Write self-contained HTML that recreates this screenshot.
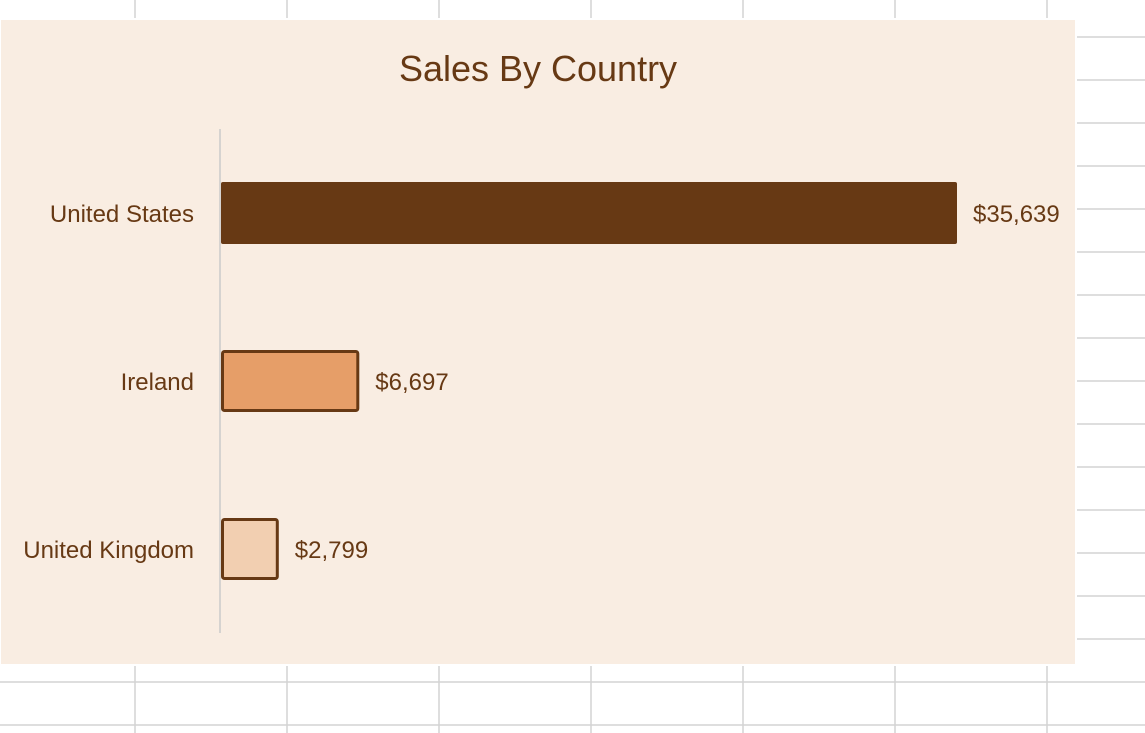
<!DOCTYPE html>
<html><head><meta charset="utf-8"><style>
html,body{margin:0;padding:0;background:#fff;}
svg{display:block;font-family:"Liberation Sans","DejaVu Sans",sans-serif;}
</style></head><body>
<svg id="c" width="1145" height="733" viewBox="0 0 1145 733">
<g id="grid"></g>
<rect x="0" y="19" width="1076" height="646" fill="#f9ede2" stroke="#fff" stroke-width="2"/>
<text x="538" y="81" text-anchor="middle" font-size="36" fill="#673914">Sales By Country</text>
<line x1="220" y1="129" x2="220" y2="633" stroke="#d6d3d0" stroke-width="2"/>
<g id="bars"></g>
</svg>
<script>
const categories = ["United States", "Ireland", "United Kingdom"];
const salesValues = [35639, 6697, 2799];
const valueLabels = ["$35,639", "$6,697", "$2,799"];
const NS = "http://www.w3.org/2000/svg";
const fills = ["#673914", "#e69e68", "#f2cfb1"];
const strokes = ["none", "#673914", "#673914"];

const g = document.getElementById("grid");
for (let x = 135; x < 1145; x += 152) {
  const l = document.createElementNS(NS, "line");
  l.setAttribute("x1", x); l.setAttribute("x2", x); l.setAttribute("y1", 0); l.setAttribute("y2", 733);
  l.setAttribute("stroke", "#d4d4d4"); l.setAttribute("stroke-width", "1.5");
  
  
  g.appendChild(l);
}
for (let y = 37; y < 733; y += 43) {
  const l = document.createElementNS(NS, "line");
  l.setAttribute("x1", 0); l.setAttribute("x2", 1145); l.setAttribute("y1", y); l.setAttribute("y2", y);
  l.setAttribute("stroke", "#d4d4d4"); l.setAttribute("stroke-width", "1.5");
  
  
  g.appendChild(l);
}

const x0 = 221, pxPerUnit = 736 / 35639;
const xScale = v => x0 + v * pxPerUnit;
const plotTop = 129, band = 168;
const yCenter = i => plotTop + band * i + band / 2;

const bars = document.getElementById("bars");
categories.forEach((cat, i) => {
  const cy = yCenter(i);
  const w = xScale(salesValues[i]) - x0;
  const r = document.createElementNS(NS, "rect");
  const sw = strokes[i] === "none" ? 0 : 3;
  r.setAttribute("x", x0 + sw / 2); r.setAttribute("y", cy - 31 + sw / 2);
  r.setAttribute("width", Math.max(0, w - sw)); r.setAttribute("height", 62 - sw);
  r.setAttribute("rx", 2);
  r.setAttribute("fill", fills[i]);
  if (sw) { r.setAttribute("stroke", strokes[i]); r.setAttribute("stroke-width", sw); }
  
  
  bars.appendChild(r);

  const t = document.createElementNS(NS, "text");
  t.setAttribute("x", 194); t.setAttribute("y", cy + 9);
  t.setAttribute("text-anchor", "end"); t.setAttribute("font-size", "24"); t.setAttribute("fill", "#673914");
  t.textContent = cat;
  
  
  bars.appendChild(t);

  const v = document.createElementNS(NS, "text");
  v.setAttribute("x", xScale(salesValues[i]) + 16); v.setAttribute("y", cy + 9);
  v.setAttribute("font-size", "24"); v.setAttribute("fill", "#673914");
  v.textContent = valueLabels[i];
  
  
  bars.appendChild(v);
});
</script>
</body></html>
